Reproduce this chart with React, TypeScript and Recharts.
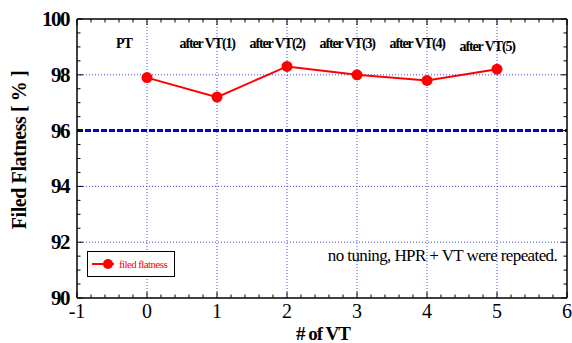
import React from 'react';
import { ComposedChart, Line, Scatter, XAxis, YAxis, ReferenceLine, Legend } from 'recharts';

// measured flatness after each vane tuning step
const vtCount = [0, 1, 2, 3, 4, 5];
const flatness = [97.9, 97.2, 98.3, 98.0, 97.8, 98.2];

const stageLabels = ['PT', 'after VT(1)', 'after VT(2)', 'after VT(3)', 'after VT(4)', 'after VT(5)'];
const stageLabelX = [-0.33, 0.86, 1.86, 2.86, 3.86, 4.86];
const stageLabelY = [99.15, 99.15, 99.15, 99.15, 99.15, 99.05];

const noteText = 'no tuning, HPR + VT were repeated.';
const noteX = [5.86];
const noteY = [91.55];

const xTicks = [-1, 0, 1, 2, 3, 4, 5, 6];
const yTicks = [90, 92, 94, 96, 98, 100];
const xGrid = [0, 1, 2, 3, 4, 5];
const yGrid = [92, 94, 98];
const threshold = 96;

const xMinor = [0, 0.2, 0.4, 0.6, 0.8];
const yMinor = [0, 0.5, 1, 1.5];

const xAllTicks = xTicks.slice(0, -1).flatMap((t) => xMinor.map((m) => Math.round((t + m) * 10) / 10)).concat([6]);
const yAllTicks = yTicks.slice(0, -1).flatMap((t) => yMinor.map((m) => t + m)).concat([100]);

const data = vtCount.map((x, i) => ({ x, y: flatness[i] }));
const labelData = stageLabels.map((text, i) => ({ x: stageLabelX[i], y: stageLabelY[i], text }));
const noteData = noteX.map((x, i) => ({ x, y: noteY[i], text: noteText }));

const SERIF = 'Liberation Serif, serif';
const RED = '#ff0000';
const GRID = '#4a4ad8';

const serif = (size: number, bold = false, spacing = 0) => ({
  fontFamily: SERIF,
  fontSize: size,
  fontWeight: bold ? 'bold' : 'normal',
  letterSpacing: spacing,
});

const isMajorX = (v: number) => Math.abs(v - Math.round(v)) < 1e-6;
const isMajorY = (v: number) => yTicks.includes(v);

const BottomTick = ({ x, y, payload }: any) => {
  const major = isMajorX(payload.value);
  return (
    <g>
      <line x1={x} y1={y} x2={x} y2={y - (major ? 6 : 3.5)} stroke="#000" strokeWidth={1} />
      {major && (
        <text x={x} y={y + 20} textAnchor="middle" style={serif(20)} fill="#000">
          {Math.round(payload.value)}
        </text>
      )}
    </g>
  );
};

const TopTick = ({ x, y, payload }: any) => {
  const major = isMajorX(payload.value);
  return <line x1={x} y1={y} x2={x} y2={y + (major ? 6 : 3.5)} stroke="#000" strokeWidth={1} />;
};

const LeftTick = ({ x, y, payload }: any) => {
  const major = isMajorY(payload.value);
  return (
    <g>
      <line x1={x} y1={y} x2={x + (major ? 6 : 3.5)} y2={y} stroke="#000" strokeWidth={1} />
      {major && (
        <text x={x - 8} y={y + 7} textAnchor="end" style={serif(21, true, -1.5)} fill="#000">
          {payload.value}
        </text>
      )}
    </g>
  );
};

const RightTick = ({ x, y, payload }: any) => {
  const major = isMajorY(payload.value);
  return <line x1={x} y1={y} x2={x - (major ? 6 : 3.5)} y2={y} stroke="#000" strokeWidth={1} />;
};

const StageText = ({ cx, cy, payload }: any) => (
  <text x={cx} y={cy + 5} textAnchor="middle" style={serif(14, true, -1.1)} fill="#000">
    {payload.text}
  </text>
);

const NoteText = ({ cx, cy, payload }: any) => (
  <text x={cx} y={cy + 6} textAnchor="end" style={serif(17, false, -0.6)} fill="#000">
    {payload.text}
  </text>
);

const LegendBox = () => (
  <div style={{ width: 86, height: 24, border: '1.5px solid #000', background: '#fff', display: 'flex', alignItems: 'center' }}>
    <svg width={30} height={20}>
      <line x1={4} y1={10} x2={26} y2={10} stroke={RED} strokeWidth={2} />
      <circle cx={20} cy={10} r={5} fill={RED} />
    </svg>
    <span style={{ ...serif(11, false, -0.6), color: RED, marginLeft: 1 }}>filed flatness</span>
  </div>
);

const App = () => (
  <div style={{ position: 'absolute', left: 0, top: 0, width: 572, height: 343, background: '#fff' }}>
    <ComposedChart width={572} height={343} data={data} margin={{ top: 18, right: 4, bottom: 44, left: 76 }}>
      <XAxis
        dataKey="x"
        type="number"
        domain={[-1, 6]}
        ticks={xAllTicks}
        interval={0}
        height={1}
        tickSize={0}
        tickMargin={0}
        tickLine={false}
        axisLine={{ stroke: '#000', strokeWidth: 1.5 }}
        tick={<BottomTick />}
        label={{
          content: () => (
            <text x={323} y={340} textAnchor="middle" style={serif(19, true, -1)} fill="#000">
              # of VT
            </text>
          ),
        }}
      />
      <XAxis
        xAxisId="top"
        orientation="top"
        dataKey="x"
        type="number"
        domain={[-1, 6]}
        ticks={xAllTicks}
        interval={0}
        height={1}
        tickSize={0}
        tickMargin={0}
        tickLine={false}
        axisLine={{ stroke: '#000', strokeWidth: 1.5 }}
        tick={<TopTick />}
      />
      <YAxis
        dataKey="y"
        type="number"
        domain={[90, 100]}
        ticks={yAllTicks}
        interval={0}
        width={1}
        tickSize={0}
        tickMargin={0}
        tickLine={false}
        axisLine={{ stroke: '#000', strokeWidth: 1.5 }}
        tick={<LeftTick />}
        label={{
          content: () => (
            <text
              x={19}
              y={150}
              transform="rotate(-90 19 150)"
              textAnchor="middle"
              dominantBaseline="central"
              style={serif(20, true, -0.4)}
              fill="#000"
            >
              Filed Flatness [ % ]
            </text>
          ),
        }}
      />
      <YAxis
        yAxisId="right"
        orientation="right"
        dataKey="y"
        type="number"
        domain={[90, 100]}
        ticks={yAllTicks}
        interval={0}
        width={1}
        tickSize={0}
        tickMargin={0}
        tickLine={false}
        axisLine={{ stroke: '#000', strokeWidth: 1.5 }}
        tick={<RightTick />}
      />
      {xGrid.map((v) => (
        <ReferenceLine key={`gx-${v}`} x={v} stroke={GRID} strokeWidth={1} strokeDasharray="1 2" />
      ))}
      {yGrid.map((v) => (
        <ReferenceLine key={`gy-${v}`} y={v} stroke={GRID} strokeWidth={1} strokeDasharray="1 2" />
      ))}
      <ReferenceLine y={threshold} stroke="#0000dd" strokeWidth={3} strokeDasharray="6 2" />
      <Line
        dataKey="y"
        stroke={RED}
        strokeWidth={2}
        dot={{ r: 5.5, fill: RED, stroke: RED, strokeWidth: 0 }}
        isAnimationActive={false}
        legendType="none"
      />
      <Scatter data={labelData} dataKey="y" shape={<StageText />} isAnimationActive={false} legendType="none" />
      <Scatter data={noteData} dataKey="y" shape={<NoteText />} isAnimationActive={false} legendType="none" />
      <Legend
        layout="horizontal"
        verticalAlign="middle"
        align="center"
        content={() => <LegendBox />}
        wrapperStyle={{ left: 87, top: 251, width: 89, height: 27 }}
      />
    </ComposedChart>
  </div>
);

export default App;
